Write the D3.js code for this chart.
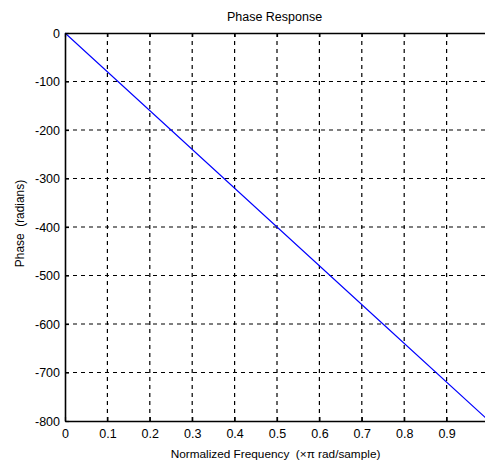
<!DOCTYPE html>
<html>
<head>
<meta charset="utf-8">
<script src="https://cdn.jsdelivr.net/npm/d3@7/dist/d3.min.js"></script>
<style>
  html, body { margin: 0; padding: 0; background: #fff; }
  svg { display: block; }
  text { font-family: "Liberation Sans", Arial, sans-serif; fill: #000; }
</style>
</head>
<body>
<svg id="chart" width="485" height="466"></svg>
<script>
// Phase response of a linear-phase filter
const freq = [0, 0.25, 0.5, 0.75, 1.0];
const phase = [0, -200, -400, -600, -800];
const xTicks = [0, 0.1, 0.2, 0.3, 0.4, 0.5, 0.6, 0.7, 0.8, 0.9, 1.0];
const xTickLabels = ["0", "0.1", "0.2", "0.3", "0.4", "0.5", "0.6", "0.7", "0.8", "0.9", ""];
const yTicks = [0, -100, -200, -300, -400, -500, -600, -700, -800];
const yTickLabels = ["0", "-100", "-200", "-300", "-400", "-500", "-600", "-700", "-800"];

const svg = d3.select("#chart");
const plotL = 65, plotT = 33, plotB = 421, plotR = 489;

const x = d3.scaleLinear().domain([0, 1]).range([plotL, plotR]);
const y = d3.scaleLinear().domain([-800, 0]).range([plotB, plotT]);

// dashed grid
const grid = svg.append("g");
grid.selectAll("line.vx").data(xTicks.slice(1)).join("line")
  .attr("x1", d => x(d)).attr("x2", d => x(d))
  .attr("y1", plotT).attr("y2", plotB)
  .attr("stroke", "#000").attr("stroke-width", 1.2).attr("stroke-dasharray", "4,4");
grid.selectAll("line.hy").data(yTicks.slice(1, -1)).join("line")
  .attr("x1", plotL).attr("x2", plotR)
  .attr("y1", d => y(d)).attr("y2", d => y(d))
  .attr("stroke", "#000").attr("stroke-width", 1.2).attr("stroke-dasharray", "4,4");

// data line
svg.append("path")
  .datum(freq.map((f, i) => [f, phase[i]]))
  .attr("fill", "none").attr("stroke", "#0000ff").attr("stroke-width", 1.1)
  .attr("d", d3.line().x(d => x(d[0])).y(d => y(d[1])));

// axes with inward ticks
const xAxis = d3.axisBottom(x).tickValues(xTicks)
  .tickFormat((d, i) => xTickLabels[i]).tickSizeInner(-4).tickSizeOuter(0).tickPadding(8);
const gx = svg.append("g").attr("transform", `translate(0,${plotB})`).call(xAxis);
const gxTop = svg.append("g").attr("transform", `translate(0,${plotT})`)
  .call(d3.axisTop(x).tickValues(xTicks).tickFormat("").tickSizeInner(-4).tickSizeOuter(0));
const yAxis = d3.axisLeft(y).tickValues(yTicks)
  .tickFormat((d, i) => yTickLabels[i]).tickSizeInner(-4).tickSizeOuter(0).tickPadding(5);
const gy = svg.append("g").attr("transform", `translate(${plotL},0)`).call(yAxis);

[gx, gxTop, gy].forEach(g => {
  g.select(".domain").attr("stroke", "#000").attr("stroke-width", 1.6);
  g.selectAll(".tick line").attr("stroke", "#000").attr("stroke-width", 1.2);
  g.selectAll(".tick text").attr("font-size", 12.5)
    .style("font-family", '"Liberation Sans", Arial, sans-serif');
});

// titles
svg.append("text").attr("x", 274.5).attr("y", 21).attr("text-anchor", "middle")
  .attr("font-size", 12.5).text("Phase Response");
svg.append("text").attr("x", 275.5).attr("y", 458).attr("text-anchor", "middle")
  .attr("font-size", 11.8).attr("xml:space", "preserve").text("Normalized Frequency  (\u00d7\u03c0 rad/sample)");
svg.append("text").attr("transform", "translate(24,223.5) rotate(-90)").attr("text-anchor", "middle")
  .attr("font-size", 11.9).attr("xml:space", "preserve").text("Phase  (radians)");
</script>
</body>
</html>
